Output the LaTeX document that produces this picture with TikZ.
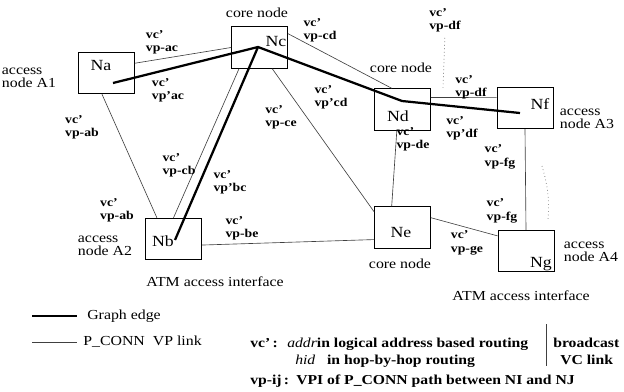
\documentclass[tikz,border=0pt]{standalone}
\usepackage{fontspec}
\setmainfont[FakeStretch=1.15]{Liberation Serif}
\usepackage{tikz}
\usetikzlibrary{positioning}
\tikzset{
  caja/.style={rectangle, draw, line width=0.6pt, minimum width=1.4cm,
    minimum height=1.04cm, inner sep=0pt},
  nombre/.style={font=\fontsize{11}{11}\selectfont, inner sep=0pt},
  arista/.style={line width=1.6pt, line join=round},
  enlace/.style={line width=0.45pt, draw=black!75},
  guia/.style={dotted, line width=0.5pt, draw=black!60},
  etq/.style={font=\fontsize{8.5}{9.5}\selectfont\bfseries, align=left, inner sep=0pt},
  tipo/.style={font=\fontsize{9.8}{9}\selectfont, align=left, inner sep=0pt},
  rotulo/.style={font=\fontsize{9.8}{12}\selectfont, inner sep=0pt},
  nota/.style={font=\fontsize{9.7}{12}\selectfont\bfseries, anchor=base west, inner sep=0pt},
}

\begin{document}
\begin{tikzpicture}[x=0.025cm, y=-0.025cm]
  \useasboundingbox (0,0) rectangle (624,391);
  % cajas de los nodos
  \node[caja] (na) at (106.5,73) {};
  \node[caja] (nc) at (259.5,47.5) {};
  \node[caja] (nd) at (402.5,109.5) {};
  \node[caja] (nf) at (525,108) {};
  \node[caja] (nb) at (173.5,239) {};
  \node[caja] (ne) at (402.5,227.5) {};
  \node[caja] (ng) at (526,251) {};
  \node[nombre] (tna) at (101,66) {Na};
  \node[nombre] (tnc) at (276,42) {Nc};
  \node[nombre] (tnd) at (398,116) {Nd};
  \node[nombre] (tnf) at (540,104) {Nf};
  \node[nombre] (tnb) at (163,241) {Nb};
  \node[nombre] (tne) at (401,233) {Ne};
  \node[nombre] (tng) at (541,264) {Ng};

  % tipo de nodo
  \node[tipo] (ta1) at (29,78) {access\\node A1};
  \node[tipo] (ta2) at (105,246) {access\\node A2};
  \node[tipo] (ta3) at (587,119) {access\\node A3};
  \node[tipo] (ta4) at (591,252) {access\\node A4};
  \node[rotulo] (cnc) at (257,13) {core node};
  \node[rotulo] (cnd) at (401,68) {core node};
  \node[rotulo] (cne) at (400,264) {core node};
  \node[rotulo] (atm1) at (215,282) {ATM access interface};
  \node[rotulo] (atm2) at (521,296) {ATM access interface};

  % enlaces P_CONN
  \draw[enlace] (na.19) -- (nc.west);
  \draw[enlace] (na.-102) -- (nb.128);
  \draw[enlace] (nc.-134) -- (nb.north);
  \draw[enlace] (nc.-59) -- (ne.151);
  \draw[enlace] (nc.26) -- (nd.117);
  \draw[enlace] (nd.23) -- (nf.160);
  \draw[enlace] (nd.-105) -- (ne.117);
  \draw[enlace] (nb.-12) -- (ne.203);
  \draw[enlace] (ne.19) -- (ng.152);
  \draw[enlace] (nf.south) -- (ng.north);

  % aristas del grafo
  \coordinate (pa) at (113,83);
  \coordinate (pc) at (258,47);
  \coordinate (pd) at (402,101);
  \coordinate (pf) at (520,113);
  \coordinate (pb) at (175,240);
  \draw[arista] (pa) -- (pc) -- (pd) -- (pf);
  \draw[arista] (pc) -- (pb);

  % etiquetas vc/vp
  \node[etq] (lac) at (162,42) {vc'\\vp-ac};
  \node[etq] (lac2) at (168,90) {vc'\\vp'ac};
  \node[etq] (lab) at (82,127) {vc'\\vp-ab};
  \node[etq] (lcb) at (179,165) {vc'\\vp-cb};
  \node[etq] (lbc) at (230,182) {vc'\\vp'bc};
  \node[etq] (lce) at (281,117) {vc'\\vp-ce};
  \node[etq] (lcd) at (320,30) {vc'\\vp-cd};
  \node[etq] (lcd2) at (331,97) {vc'\\vp'cd};
  \node[etq] (ldf) at (445,20) {vc'\\vp-df};
  \node[etq] (ldf2) at (471,87) {vc'\\vp-df};
  \node[etq] (ldf3) at (462,128) {vc'\\vp'df};
  \node[etq] (lde) at (413,139) {vc'\\vp-de};
  \node[etq] (lfg) at (500,157) {vc'\\vp-fg};
  \node[etq] (lfg2) at (502,211) {vc'\\vp-fg};
  \node[etq] (lab2) at (117,210) {vc'\\vp-ab};
  \node[etq] (lbe) at (242,228) {vc'\\vp-be};
  \node[etq] (lge) at (467,243) {vc'\\vp-ge};

  % enlaces de difusion
  \coordinate (q1) at (443,89);
  \draw[guia, shorten <=4pt] (ldf.south) -- (q1);
  \coordinate (r1) at (542,166);
  \coordinate (r2) at (548,220);
  \draw[guia] (r1) to[bend left=10] (r2);

  % leyenda
  \coordinate (g1) at (32,316);
  \coordinate (g2) at (77,316);
  \draw[arista] (g1) -- (g2);
  \node[rotulo, anchor=west, right=0.25cm of g2] (lg) {Graph edge};
  \coordinate (h1) at (32,342);
  \coordinate (h2) at (77,342);
  \draw[enlace] (h1) -- (h2);
  \node[rotulo, anchor=west, right=0.15cm of h2] (lh) {P\_CONN\ \ VP link};

  % notas
  \node[nota] (n1) at (250,347) {vc'\,:};
  \node[nota] (n2) at (287,347) {\textit{\mdseries addr}in logical address based routing};
  \node[nota] (n3) at (295,364) {\textit{\mdseries hid}\ \ \ in hop-by-hop routing};
  \node[nota] (n4) at (250,384) {vp-ij\,:};
  \node[nota] (n5) at (296,384) {VPI of P\_CONN path between NI and NJ};
  \coordinate (b1) at (546,324);
  \coordinate (b2) at (546,366);
  \draw[enlace] (b1) -- (b2);
  \node[nota] (n6) at (553,347) {broadcast};
  \node[nota] (n7) at (560,364) {VC link};
\end{tikzpicture}
\end{document}
